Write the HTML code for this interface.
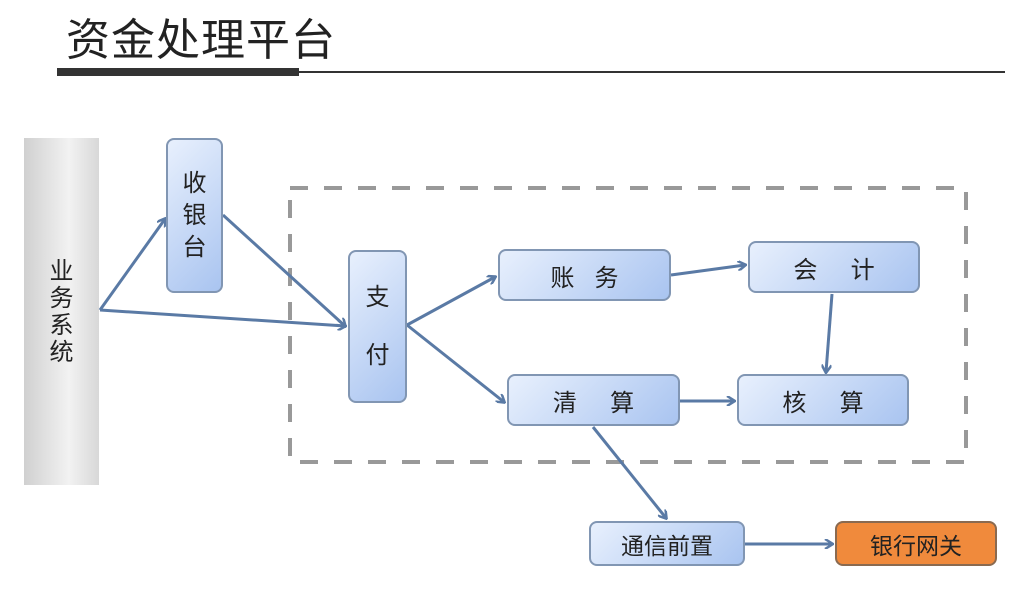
<!DOCTYPE html>
<html><head><meta charset="utf-8"><style>
body{margin:0;width:1024px;height:595px;background:#fff;overflow:hidden;position:relative;font-family:"Liberation Sans","Noto Sans CJK SC",sans-serif;}
.t{position:absolute;left:66px;top:4px;font-size:44px;color:#222;letter-spacing:1px}
.b{position:absolute;box-sizing:border-box;border:2px solid #8196b3;border-radius:8px;background:linear-gradient(135deg,#e8f0fd,#a9c4f0);display:flex;align-items:center;justify-content:center;font-size:24px;color:#222;}
.v{flex-direction:column;line-height:32px}
</style></head><body>
<div class="t">资金处理平台</div>
<div style="position:absolute;left:57px;top:68px;width:242px;height:8px;background:#333"></div>
<div style="position:absolute;left:298px;top:71px;width:707px;height:2px;background:#333"></div>
<div style="position:absolute;left:24px;top:138px;width:75px;height:347px;background:linear-gradient(90deg,#d0d0d0,#f2f2f2 60%,#d8d8d8);display:flex;flex-direction:column;align-items:center;justify-content:center;font-size:24px;line-height:27px;color:#222">业<br>务<br>系<br>统</div>
<svg width="1024" height="595" style="position:absolute;left:0;top:0">
<defs><marker id="a" markerWidth="10" markerHeight="10" refX="8" refY="5" orient="auto" markerUnits="userSpaceOnUse"><path d="M1,0 L9,5 L1,10" fill="none" stroke="#5a7aa5" stroke-width="2.5"/></marker></defs>
<rect x="290" y="188" width="676" height="274" fill="none" stroke="#999" stroke-width="4" stroke-dasharray="18,16"/>
<g stroke="#5a7aa5" stroke-width="3" fill="none" marker-end="url(#a)">
<line x1="100" y1="310" x2="165" y2="219"/>
<line x1="100" y1="310" x2="345" y2="326"/>
<line x1="223" y1="215" x2="345" y2="326"/>
<line x1="407" y1="325" x2="495" y2="277"/>
<line x1="407" y1="325" x2="504" y2="402"/>
<line x1="671" y1="275" x2="745" y2="265"/>
<line x1="832" y1="294" x2="826" y2="372"/>
<line x1="680" y1="401" x2="734" y2="401"/>
<line x1="593" y1="427" x2="666" y2="518"/>
<line x1="745" y1="544" x2="832" y2="544"/>
</g></svg>
<div class="b v" style="left:166px;top:138px;width:57px;height:155px">收<br>银<br>台</div>
<div class="b v" style="left:348px;top:250px;width:59px;height:153px;line-height:58px">支<br>付</div>
<div class="b" style="left:498px;top:249px;width:173px;height:52px">账&nbsp;&nbsp;&nbsp;务</div>
<div class="b" style="left:748px;top:241px;width:172px;height:52px">会&nbsp;&nbsp;&nbsp;&nbsp;&nbsp;计</div>
<div class="b" style="left:507px;top:374px;width:173px;height:52px">清&nbsp;&nbsp;&nbsp;&nbsp;&nbsp;算</div>
<div class="b" style="left:737px;top:374px;width:172px;height:52px">核&nbsp;&nbsp;&nbsp;&nbsp;&nbsp;算</div>
<div class="b" style="left:589px;top:521px;width:156px;height:45px;font-size:23px">通信前置</div>
<div class="b" style="left:835px;top:521px;width:162px;height:45px;font-size:23px;background:#f08a3c;border-color:#8a6a50">银行网关</div>
</body></html>
